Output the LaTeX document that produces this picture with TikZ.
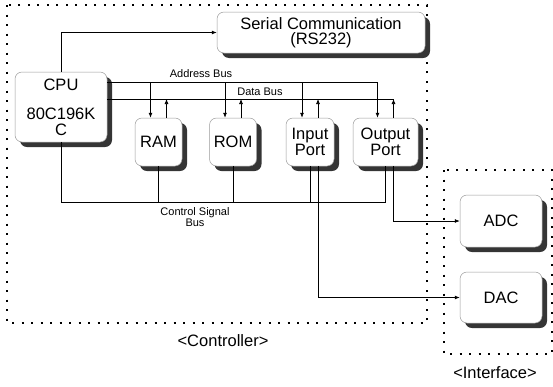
\documentclass[tikz,border=0pt]{standalone}
\usepackage{fontspec}
\setmainfont{Liberation Sans}
\usetikzlibrary{calc,positioning,arrows.meta,shadows}
\definecolor{BoxLine}{HTML}{9A9A9A}
\definecolor{ShadowGray}{HTML}{353535}

\begin{document}
\begin{tikzpicture}[x=1pt,y=-1pt,
    unit/.style={draw=BoxLine, line width=0.5pt, rounded corners=7pt,
      fill=white, align=center, inner sep=1pt,
      font=\fontsize{16.5}{15.5}\selectfont,
      drop shadow={shadow xshift=5pt, shadow yshift=-5pt,
        fill=ShadowGray, opacity=1}},
    frame/.style={line width=1.4pt, dash pattern=on 2pt off 7.5pt},
    bus/.style={line width=0.7pt},
    tip/.style={bus, -{Latex[length=5pt,width=4pt]}},
    small/.style={font=\fontsize{11}{11.5}\selectfont, inner sep=1pt, align=center},
    caption/.style={font=\fontsize{16.5}{18}\selectfont, inner sep=1pt}]
  \useasboundingbox (0,0) rectangle (553,386);

  % frames
  \draw[frame] (7,5) rectangle (427,323);
  \draw[frame] (444,170) rectangle (552,354);

  % units
  \node[unit, minimum width=208pt, minimum height=41pt] (serial) at (321,32.5)
    {Serial Communication\\(RS232)};
  \node[unit, minimum width=92pt, minimum height=70pt] (cpu) at (61,107)
    {CPU\\[14pt]80C196K\\C};
  \node[unit, minimum width=47pt, minimum height=48pt] (ram) at (158.5,142) {RAM};
  \node[unit, minimum width=47pt, minimum height=48pt] (rom) at (233,142) {ROM};
  \node[unit, minimum width=48pt, minimum height=48pt] (inp) at (310,142) {Input\\Port};
  \node[unit, minimum width=65pt, minimum height=48pt] (outp) at (385.5,142) {Output\\Port};
  \node[unit, minimum width=82pt, minimum height=52pt] (adc) at (501,221) {ADC};
  \node[unit, minimum width=82pt, minimum height=51pt] (dac) at (501,297.5) {DAC};

  % buses
  \coordinate (abus) at (cpu.east |- 0,82);
  \coordinate (dbus) at (cpu.east |- 0,99);
  \coordinate (cbus) at (cpu.south |- 0,202);

  \foreach \n in {ram,rom,inp,outp} {
    \path ([xshift=-8pt]\n.north) coordinate (a\n)
          ([xshift=8pt]\n.north) coordinate (b\n);
    \draw[tip] (a\n |- abus) -- (a\n);
    \draw[tip] (b\n) -- (b\n |- dbus);
  }
  \draw[bus] (abus) -- (aoutp |- abus);
  \draw[bus] (dbus) -- (boutp |- dbus);

  \draw[bus] (cpu.south) -- (cbus) -- (outp.south |- cbus) -- (outp.south);
  \foreach \n in {ram,rom,inp}
    \draw[bus] (\n.south) -- (\n.south |- cbus);

  \draw[tip] (cpu.north) |- (serial.west);
  \draw[tip] ([xshift=8pt]outp.south) |- (adc.west);
  \draw[tip] ([xshift=8pt]inp.south) |- (dac.west);

  % labels
  \node[small] (abuslbl) at (201,74) {Address Bus};
  \node[small] (dbuslbl) at (260,92) {Data Bus};
  \node[small] (cbuslbl) at (195,217) {Control Signal\\Bus};
  \node[caption] (ctrllbl) at (223,341) {<Controller>};
  \node[caption] (intflbl) at (495,373) {<Interface>};
\end{tikzpicture}
\end{document}
